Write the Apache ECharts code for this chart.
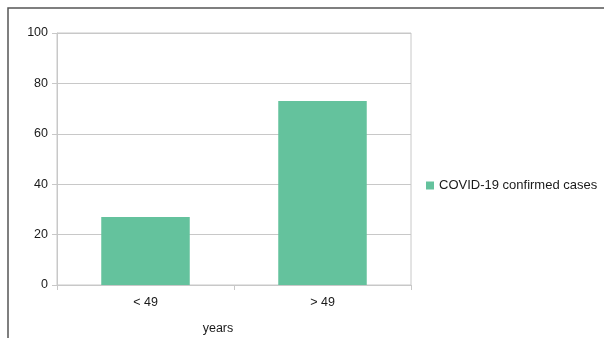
<!DOCTYPE html>
<html>
<head>
<meta charset="utf-8">
<script src="https://cdn.jsdelivr.net/npm/echarts@6/dist/echarts.min.js"></script>
<style>
  html, body { margin: 0; padding: 0; background: #fff; }
  #chart { width: 604px; height: 338px; }
</style>
</head>
<body>
<div id="chart"></div>
<script>
// Age groups and confirmed case shares
const categories = ['< 49', '> 49'];
const confirmedCases = [27, 73];
const seriesName = 'COVID-19 confirmed cases';
const axisTitle = 'years';

const chart = echarts.init(document.getElementById('chart'), null, { renderer: 'canvas' });
const gridColor = '#c8c8c8';
const textColor = '#1a1a1a';
const font = 'Liberation Sans, Arial, sans-serif';

chart.setOption({
  animation: false,
  backgroundColor: '#fff',
  graphic: [{
    type: 'rect',
    shape: { x: 8, y: 8, width: 700, height: 500 },
    style: { fill: 'none', stroke: '#555', lineWidth: 1.5 },
    silent: true
  }],
  grid: {
    left: 57, right: 193, top: 33, bottom: 53,
    outerBoundsMode: 'none',
    containLabel: false,
    show: true, borderColor: gridColor, borderWidth: 1, backgroundColor: 'transparent'
  },
  legend: {
    data: [seriesName],
    orient: 'vertical',
    left: 426, top: 179, padding: 0,
    icon: 'rect', itemWidth: 8, itemHeight: 8, itemGap: 4,
    textStyle: { color: textColor, fontSize: 13, fontFamily: font }
  },
  xAxis: {
    type: 'category',
    data: categories,
    axisLine: { lineStyle: { color: gridColor } },
    axisTick: { show: true, length: 5, lineStyle: { color: gridColor } },
    axisLabel: { color: textColor, fontSize: 12.5, fontFamily: font, margin: 11 },
    name: axisTitle,
    nameLocation: 'middle',
    nameGap: 37,
    nameTextStyle: { color: textColor, fontSize: 12.5, fontFamily: font, padding: [0, 32, 0, 0] }
  },
  yAxis: {
    type: 'value',
    min: 0, max: 100, interval: 20,
    axisLine: { show: true, lineStyle: { color: gridColor } },
    axisTick: { show: true, length: 5, lineStyle: { color: gridColor } },
    axisLabel: { color: textColor, fontSize: 12.5, fontFamily: font, margin: 9 },
    splitLine: { lineStyle: { color: gridColor } }
  },
  series: [{
    name: seriesName,
    type: 'bar',
    data: confirmedCases,
    barWidth: '50%',
    itemStyle: { color: '#64c29d' }
  }]
});
</script>
</body>
</html>
